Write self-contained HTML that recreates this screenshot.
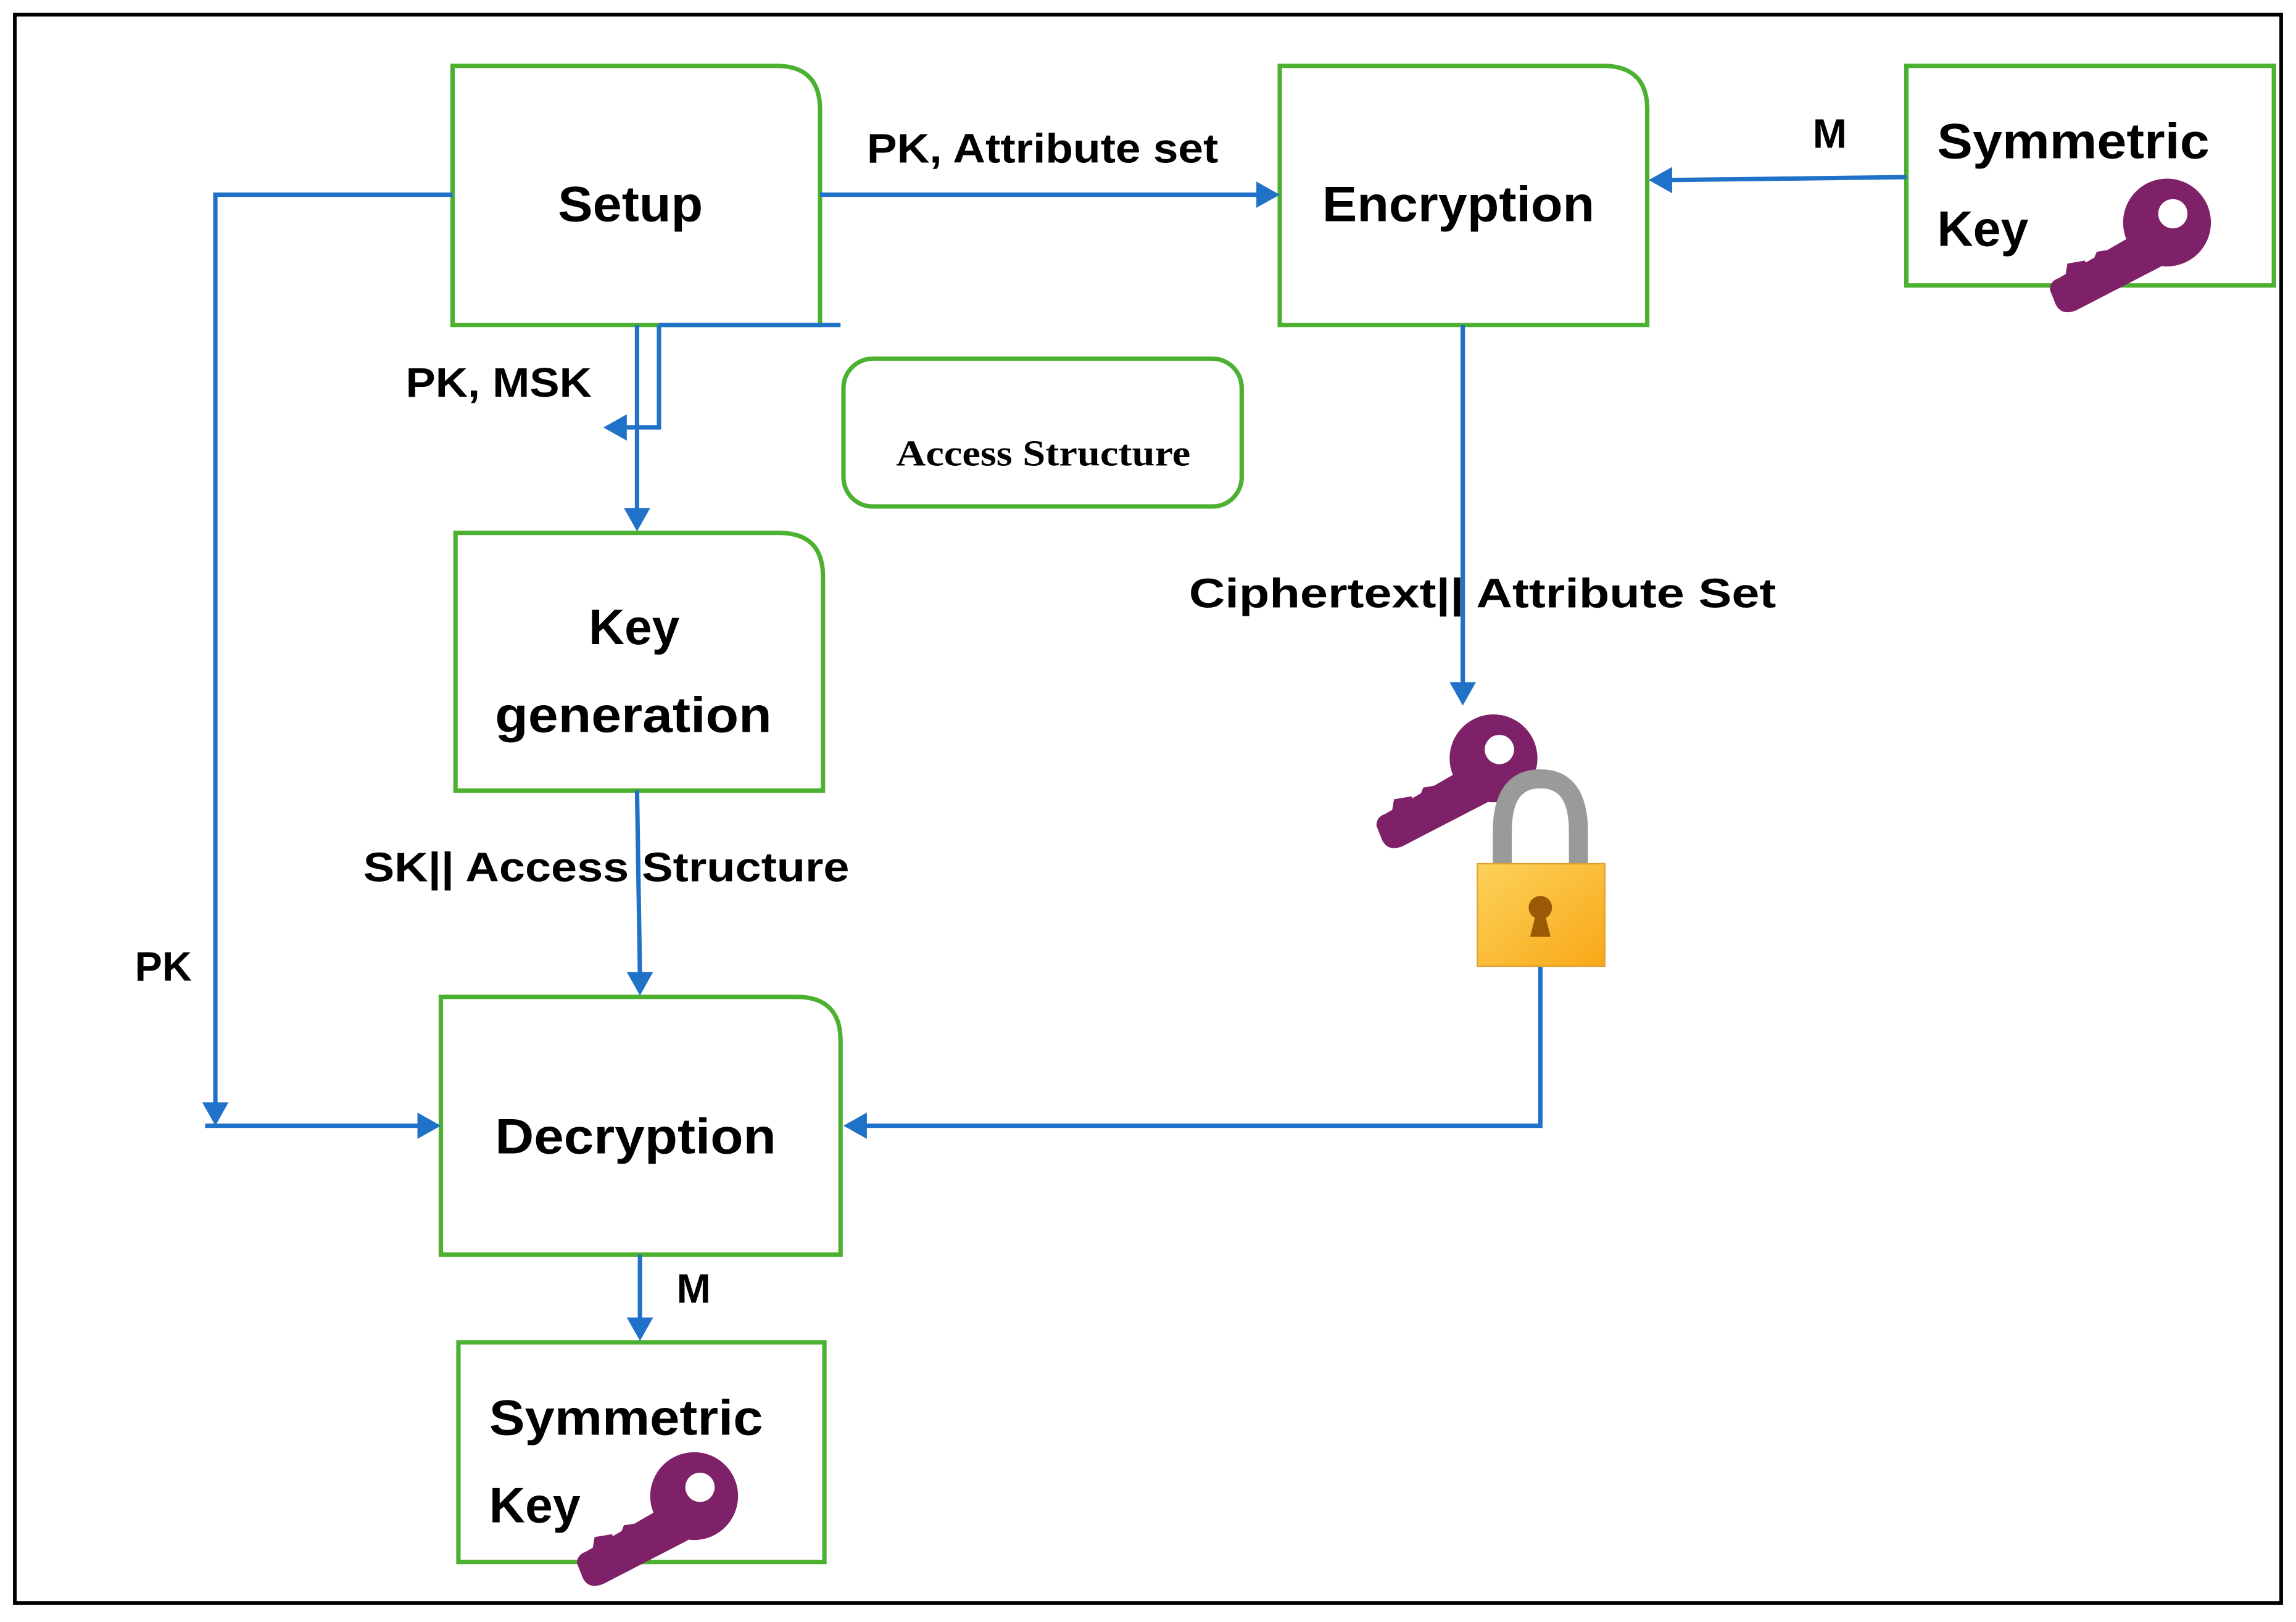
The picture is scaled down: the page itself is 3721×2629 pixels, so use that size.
<!DOCTYPE html>
<html><head><meta charset="utf-8"><style>
html,body{margin:0;padding:0;background:#fff;}
svg{display:block;}
text{font-family:"Liberation Sans",sans-serif;font-weight:bold;fill:#000;}
</style></head><body>
<svg width="3721" height="2629" viewBox="0 0 1568 1108" xmlns="http://www.w3.org/2000/svg">
<defs>
<g id="key">
<circle cx="0" cy="0" r="30" fill="#7e2168"/>
<path d="M-22,8 L-4,30 L-62,60 Q-72,64 -76,56 L-80,46 Q-80,40 -74,38 Z" fill="#7e2168"/>
<path d="M-70,40 L-68,28 L-56,26 L-54,34 Z M-52,30 L-48,20 L-36,18 L-36,24 Z" fill="#7e2168"/>
<circle cx="4" cy="-6" r="10" fill="#fff"/>
</g>
<linearGradient id="gold" x1="0" y1="0" x2="1" y2="1"><stop offset="0" stop-color="#fcd25a"/><stop offset="1" stop-color="#f9a818"/></linearGradient>
</defs>
<rect x="10" y="10" width="1548" height="1085" fill="none" stroke="#000" stroke-width="2.5"/>
<g fill="none" stroke="#4cb030" stroke-width="3">
<path d="M309,45 H530 Q560,45 560,75 V222 H309 Z"/>
<path d="M874,45 H1095 Q1125,45 1125,75 V222 H874 Z"/>
<rect x="1302" y="45" width="251" height="150"/>
<rect x="576" y="245" width="272" height="101" rx="20"/>
<path d="M311,364 H532 Q562,364 562,394 V540 H311 Z"/>
<path d="M301,681 H544 Q574,681 574,711 V857 H301 Z"/>
<rect x="313" y="917" width="250" height="150"/>
</g>
<g fill="none" stroke="#1f72c8" stroke-width="3">
<path d="M560,133 H860"/>
<path d="M1302,121 L1140,123"/>
<path d="M309,133 H147 V755"/>
<path d="M140,769 H288"/>
<path d="M435,222 V350"/>
<path d="M450,222 V292 H425"/>
<path d="M450,222 H574"/>
<path d="M435,540 L437,667"/>
<path d="M999,222 V468"/>
<path d="M1052,660 V769 H590"/>
<path d="M437,857 V903"/>
</g>
<g fill="#1f72c8">
<path d="M874,133 l-16,-9 v18 z"/>
<path d="M1126,123 l16,-9 v18 z"/>
<path d="M147,769 l-9,-16 h18 z"/>
<path d="M301,769 l-16,-9 v18 z"/>
<path d="M435,363 l-9,-16 h18 z"/>
<path d="M412,292 l16,-9 v18 z"/>
<path d="M437,680 l-9,-16 h18 z"/>
<path d="M999,482 l-9,-16 h18 z"/>
<path d="M576,769 l16,-9 v18 z"/>
<path d="M437,916 l-9,-16 h18 z"/>
</g>
<g font-size="34">
<text x="381" y="151" textLength="99" lengthAdjust="spacingAndGlyphs">Setup</text>
<text x="903" y="151" textLength="186" lengthAdjust="spacingAndGlyphs">Encryption</text>
<text x="402" y="440" textLength="62" lengthAdjust="spacingAndGlyphs">Key</text>
<text x="338" y="500" textLength="189" lengthAdjust="spacingAndGlyphs">generation</text>
<text x="338" y="788" textLength="192" lengthAdjust="spacingAndGlyphs">Decryption</text>
<text x="1323" y="108" textLength="186" lengthAdjust="spacingAndGlyphs">Symmetric</text>
<text x="1323" y="168">Key</text>
<text x="334" y="980" textLength="187" lengthAdjust="spacingAndGlyphs">Symmetric</text>
<text x="334" y="1040">Key</text>
</g>
<g font-size="28">
<text x="592" y="111" textLength="240" lengthAdjust="spacingAndGlyphs">PK, Attribute set</text>
<text x="1238" y="101">M</text>
<text x="277" y="271" textLength="127" lengthAdjust="spacingAndGlyphs">PK, MSK</text>
<text x="812" y="415" textLength="401" lengthAdjust="spacingAndGlyphs">Ciphertext|| Attribute Set</text>
<text x="248" y="602" textLength="332" lengthAdjust="spacingAndGlyphs">SK|| Access Structure</text>
<text x="92" y="670">PK</text>
<text x="462" y="890">M</text>
</g>
<text x="612" y="318" textLength="201" lengthAdjust="spacingAndGlyphs" style="font-family:'Liberation Serif',serif;font-size:25px">Access Structure</text>
<use href="#key" x="1480" y="152"/>
<use href="#key" x="474" y="1022"/>
<use href="#key" x="1020" y="518"/>
<path d="M1026,592 V568 Q1026,532 1052,532 Q1078,532 1078,568 V592" fill="none" stroke="#9a9a9a" stroke-width="13"/>
<rect x="1009" y="590" width="87" height="70" fill="url(#gold)" stroke="#e0a030" stroke-width="1"/>
<circle cx="1052" cy="620" r="8" fill="#9a5a05"/>
<path d="M1049,624 L1045,640 H1059 L1055,624 Z" fill="#9a5a05"/>
</svg>
</body></html>
